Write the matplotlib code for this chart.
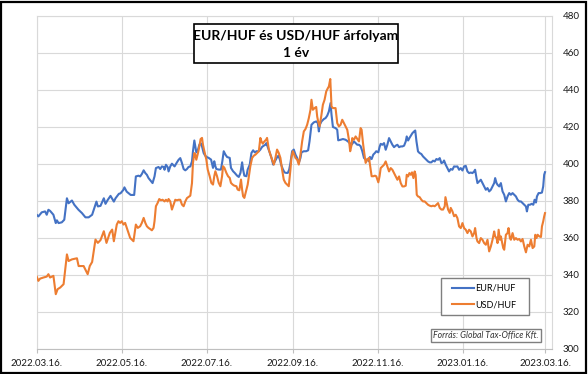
import matplotlib
matplotlib.use('Agg')
import matplotlib.pyplot as plt
from matplotlib.patches import Rectangle
import pandas as pd

plt.rcParams['font.family'] = ['Lato', 'DejaVu Sans']

# ---------------- data ----------------
start_date = '2022-03-16'
tick_dates = ['2022-03-16', '2022-05-16', '2022-07-16', '2022-09-16',
              '2022-11-16', '2023-01-16', '2023-03-16']
tick_labels = ['2022.03.16.', '2022.05.16.', '2022.07.16.', '2022.09.16.',
               '2022.11.16.', '2023.01.16.', '2023.03.16.']
y_ticks = [300, 320, 340, 360, 380, 400, 420, 440, 460, 480]

# days elapsed since 2022.03.16. and EUR/HUF rate
eur_days = [0, 1.2, 3.6, 6, 7.2, 8.4, 9.6, 12, 13.7, 14.5, 15.7, 18, 19.8, 21.7, 22.9, 25.3, 27, 30, 32.5, 35,
            37.3, 39.8, 42.2, 42.9, 43.9, 45.8, 48.2, 49.4, 51, 53, 55.4, 56.6, 59, 60.2, 62.2, 63, 64.6, 67.5, 70,
            71.2, 73.1, 74.3, 75.5, 76.8, 78, 79.1, 80.3, 82.2, 83.2, 84.6, 85.6, 87.5, 88.7, 89.9, 91.1, 91.8, 92.8,
            94, 94.7, 95.9, 97.1, 99, 100.7, 101.9, 103.1, 104.3, 105.5, 106.7, 107.9, 109, 110.3, 111.5, 112.2,
            113.2, 113.9, 114.6, 115.8, 116.8, 117.7, 118.7, 119.9, 121, 122, 123.5, 125.2, 126.6, 127.5, 128.3,
            129, 130.7, 132.3, 133.3, 134.3, 135.5, 136.7, 138.6, 139.5, 141, 142.2, 143.9, 145.1, 146.3, 147.5,
            148.2, 149.1, 150.6, 151.5, 153, 154.2, 155.4, 156.6, 157.8, 159.5, 160.6, 161.8, 163, 164.2, 164.9,
            166.2, 167.4, 168.6, 169.8, 170.7, 171.7, 172.7, 173.6, 174.6, 175.5, 176.7, 177.9, 179.1, 180.3,
            181.3, 182.2, 183.4, 184.6, 185.8, 187, 188.2, 189.4, 190.1, 191.8, 193.5, 194.9, 195.9, 197.3, 199,
            200.7, 201.9, 202.6, 203.3, 204.5, 206.2, 207.4, 208.6, 209.8, 211, 211.7, 212.7, 214.6, 215.8, 216.5,
            218.2, 219.9, 221.8, 223.5, 224.7, 226.1, 227.8, 229, 230.2, 231.4, 232.6, 233.8, 235, 236.2, 237.4,
            238.6, 239.3, 240.5, 241.7, 242.9, 243.8, 245.3, 246.2, 247, 248.2, 249.4, 250.6, 251.8, 253, 254.2,
            255.4, 256.6, 257.8, 259, 260.2, 261.4, 262.6, 263.8, 265, 265.7, 266.7, 267.6, 268.6, 269.8, 271,
            271.8, 272.7, 273.8, 275, 276.2, 277.4, 278.6, 279.8, 281, 282.2, 283.4, 284.6, 285.8, 287, 288.2,
            289.4, 290.6, 291.8, 292.5, 293.7, 294.9, 296.1, 297.3, 298.5, 299.7, 300.9, 302.1, 303.3, 304.5,
            305.7, 306.9, 308.1, 309.3, 310.5, 311.7, 312.9, 314.1, 314.8, 315.8, 316.5, 317.7, 318.9, 320.1,
            321.3, 322.5, 323.7, 324.9, 326.1, 327.3, 328.5, 329.2, 330.2, 330.9, 332.1, 333.3, 334.5, 335.7,
            336.9, 338.1, 339.3, 340.5, 341.7, 342.9, 344.1, 345.3, 346.5, 347.7, 348.9, 350.1, 351.3, 352, 353,
            354.2, 355.4, 356.6, 357.5, 358.5, 359.2, 360.4, 361.6, 362.8, 363.7, 364.4, 365]
eur_values = [372.5, 371.6, 373.8, 374.3, 372.5, 375.2, 374.6, 372.5, 368.0, 369.5, 368.0, 368.4, 369.8, 381.4,
              378.7, 380.2, 377.9, 375.2, 373.4, 371.1, 371.1, 372.5, 377.9, 379.6, 377.0, 377.3, 381.4, 378.4,
              380.5, 382.7, 379.6, 381.4, 383.8, 384.1, 385.9, 387.3, 385.0, 383.2, 383.2,
              393.2, 393.6, 393.2, 394.5, 396.5, 395.0, 394.1, 392.3, 390.5, 389.6, 393.2, 397.7, 398.3, 397.2,
              398.6, 398.3, 396.8, 399.5, 398.3, 395.9, 398.6, 400.1, 398.6, 400.8, 402.2, 403.1, 400.4, 397.2,
              396.5, 397.2, 398.3, 398.6, 401.3, 406.7, 412.6, 409.4, 406.2, 407.6, 410.3, 411.2, 409.4, 405.8,
              404.4, 403.7, 403.2, 402.3, 397.8, 401.4, 398.7, 397.2, 396.9, 396.9, 401.4, 406.8, 405.0, 403.7,
              403.2, 397.8, 396.0, 395.1, 393.6, 392.9, 395.1, 400.8, 396.9, 393.6, 393.3, 396.9, 399.6, 405.9,
              407.3, 406.2, 406.8, 406.8, 407.7, 409.1, 409.8, 410.3, 411.2, 408.5, 405.9, 403.2, 399.6, 400.8,
              402.3, 403.7, 404.4, 402.3, 399.6, 397.2, 395.4, 395.1, 395.1, 396.9, 400.5, 406.8, 407.7, 405.0,
              403.2, 400.5, 403.2, 406.2, 406.8, 406.8, 407.3, 412.1, 421.1, 422.4, 422.9, 422.0, 417.5, 421.1,
              422.9, 424.2, 424.7, 426.0, 428.3, 432.8, 426.5, 419.9, 419.3, 418.4, 412.7, 413.0, 413.4, 413.0,
              412.1, 411.2, 410.3, 412.1, 411.2, 410.3, 410.3, 409.5, 406.8, 403.2, 402.3, 402.3, 401.4, 403.7,
              402.6, 405.0, 405.9, 406.8, 406.2, 409.1, 410.8, 410.3, 411.2, 407.6, 410.3, 413.9, 412.1, 410.3,
              409.0, 409.8, 410.3, 409.0, 409.4, 409.4, 409.8, 412.1, 414.8, 412.6, 413.9, 415.1, 416.6, 417.5,
              418.0, 412.1, 406.7, 405.8, 405.3, 404.0, 403.1, 402.2, 401.3, 400.8, 400.8, 401.7, 401.3, 402.6,
              402.2, 403.1, 400.4, 400.8, 401.8, 399.5, 397.7, 395.9, 397.2, 396.8, 398.6, 398.5, 398.6, 396.8,
              397.7, 396.4, 398.6, 398.9, 395.9, 395.0, 395.3, 395.0, 395.9, 396.8, 392.3, 389.6, 390.5, 391.4,
              389.6, 387.8, 386.0, 386.9, 385.1, 386.0, 387.8, 389.6, 392.3, 389.6, 388.7, 387.8, 389.6, 385.1,
              383.3, 379.7, 382.4, 384.2, 383.3, 384.2, 383.3, 382.4, 380.6, 379.7, 379.7, 378.8, 377.9, 377.0,
              374.3, 377.9, 377.9, 378.4, 377.9, 380.6, 379.1, 382.4, 384.2, 384.2, 384.5, 387.8, 394.1, 395.5]

# days elapsed since 2022.03.16. and USD/HUF rate
usd_days = [0, 1.2, 2.4, 4.8, 7.2, 8.4, 9.6, 12, 13.7, 15, 16.9, 19.3, 21.7, 22.9, 25.3, 28.9, 30.1, 33.7, 36.6,
            38.1, 39.8, 42.2, 43.9, 45.8, 48.2, 50.1, 52.5, 54.2, 55.4, 57.5, 58.7, 59.9, 61.1, 62.3, 63.5, 64.7,
            65.9, 67.1, 68.3, 69.5, 71.2, 72.6, 74.3, 75.5, 76.8, 78, 79.1, 80.3, 81.5, 82.7, 83.9, 84.6, 85.6,
            86.8, 88, 89.2, 90.4, 91.8, 92.8, 94, 94.7, 95.9, 97.1, 98.3, 99.5, 100.7, 101.9, 103.1, 104.3, 105.5,
            106.7, 107.9, 109, 110.3, 111.5, 112.2, 113.2, 113.9, 114.6, 115.8, 116.8, 117.7, 118.7, 119.4, 120.4,
            121.8, 122.8, 124.2, 125.4, 126.6, 127.5, 128.3, 129.5, 130.7, 131.9, 133.1, 133.8, 134.8, 136.2,
            137.4, 138.6, 139.5, 140.7, 141.9, 143.4, 144.3, 145.5, 146.7, 147.5, 148.2, 149.1, 150.3, 151.5,
            152.7, 153.4, 154.7, 155.9, 157.1, 158.3, 159.5, 160.6, 161.4, 162.3, 163.5, 164.7, 165.4, 166.7,
            167.8, 169, 170.3, 171.4, 172.6, 173.8, 175, 176.2, 177.4, 178.6, 179.8, 181, 182.2, 182.9, 183.9,
            184.9, 185.8, 187, 188.2, 189.4, 190.6, 191.8, 193, 194.2, 195.4, 196.6, 197.3, 198.3, 199.5, 200.7,
            201.4, 202.1, 203.1, 204.3, 205.5, 206.7, 207.9, 209.1, 209.8, 210.8, 211.7, 212.7, 214.6, 215.8,
            217, 218.2, 219.4, 220.6, 221.8, 223, 224.2, 225.1, 225.9, 226.6, 227.8, 229, 230.2, 231.4, 232.6,
            233.3, 234.3, 235.2, 236.2, 237.4, 238.6, 239.8, 240.5, 241.7, 242.9, 243.8, 245.3, 246.2, 247,
            248.2, 249.4, 250.6, 251.8, 253, 254.2, 255.4, 256.6, 257.8, 259, 260.2, 261.4, 262.6, 263.8, 265,
            265.7, 266.7, 267.6, 268.6, 269.5, 270.5, 271.4, 272.1, 272.9, 273.8, 275, 276.2, 277.4, 278.6,
            279.8, 281, 282.2, 283.4, 284.6, 285.8, 287, 288.2, 289.4, 290.6, 291.8, 293, 293.5, 294.4, 295.4,
            296.6, 297.3, 298.5, 299.7, 300.9, 302.1, 303.3, 304.5, 305.7, 306.9, 308.1, 309.3, 310.5, 311.7,
            312.9, 314.1, 314.8, 315.8, 316.5, 317.7, 318.9, 320.1, 321.3, 322.5, 323.7, 324.9, 326.1, 327.3,
            328.5, 329.2, 330.2, 330.9, 331.7, 332.6, 333.3, 334, 335, 335.7, 336.9, 338.1, 338.8, 339.8, 340.5,
            341.7, 342.9, 344.1, 345.3, 346.5, 347.7, 348.9, 350.1, 351.3, 352.5, 353.7, 354.9, 356.1, 357.3,
            358, 358.9, 359.7, 360.9, 362.1, 362.8, 363.7, 364.4, 365]
usd_values = [339.1, 336.8, 338.0, 338.6, 339.1, 340.4, 338.6, 339.5, 329.6, 332.3, 333.2, 335.0, 351.1, 347.5,
              348.4, 349.0, 344.8, 344.8, 340.4, 344.8, 347.0, 359.1, 357.3, 358.8, 363.6, 357.3, 362.7, 364.5,
              358.2, 367.2, 369.0, 368.1, 369.0, 367.2, 368.1, 365.4, 362.7, 360.0, 359.1, 358.2, 367.2, 365.4,
              366.3, 368.1, 370.8, 368.1, 366.3, 365.4, 364.8, 364.1, 365.4, 369.0, 377.1, 378.8, 381.0, 380.3,
              380.6, 379.7, 380.6, 379.7, 381.0, 379.7, 375.3, 378.0, 380.6, 380.3, 380.6, 380.6, 378.0, 377.1,
              379.7, 381.5, 382.1, 382.8, 389.6, 400.4, 405.8, 404.9, 402.2, 405.8, 409.4, 413.4, 414.0, 410.3,
              406.8, 402.3, 396.9, 393.3, 389.7, 388.8, 393.3, 396.0, 393.3, 389.7, 387.9, 393.3, 398.7, 397.8,
              395.1, 393.3, 392.4, 389.7, 388.8, 388.2, 387.9, 386.1, 385.7, 391.5, 386.1, 382.5, 381.6, 385.2,
              388.8, 395.1, 398.7, 403.2, 404.4, 405.0, 405.9, 406.8, 414.0, 412.1, 410.9, 412.1, 413.0, 414.0,
              407.7, 405.0, 402.3, 399.6, 403.2, 407.7, 405.9, 403.2, 396.9, 391.5, 389.7, 388.8, 387.9, 396.9,
              403.2, 406.8, 405.0, 403.2, 402.3, 399.6, 405.0, 412.1, 417.5, 418.8, 421.1, 424.7, 429.2, 434.6,
              429.2, 430.1, 430.7, 425.6, 422.9, 420.2, 425.6, 431.9, 434.6, 439.1, 440.9, 441.8, 445.8, 431.0,
              430.1, 430.1, 422.0, 420.2, 421.1, 423.8, 422.0, 420.2, 418.4, 413.0, 406.8, 409.5, 413.9, 413.0,
              414.8, 413.4, 412.1, 419.3, 418.4, 411.2, 405.9, 400.5, 402.3, 403.2, 396.9, 393.3, 393.3, 393.6,
              393.3, 390.0, 393.3, 397.7, 398.6, 399.5, 401.3, 398.6, 395.9, 397.7, 396.8, 395.0, 393.2, 391.4,
              393.2, 389.6, 387.8, 387.8, 388.2, 394.1, 393.2, 395.0, 394.1, 395.4, 392.3, 395.9, 394.1, 383.3,
              382.4, 382.0, 380.6, 379.7, 379.7, 378.8, 377.9, 377.4, 377.1, 377.4, 377.1, 377.9, 378.8, 376.2,
              375.3, 375.3, 377.1, 382.0, 378.8, 375.3, 373.5, 376.2, 374.4, 371.7, 372.5, 370.7, 366.2, 365.3,
              368.0, 365.3, 364.4, 362.6, 364.4, 363.5, 360.8, 362.6, 365.3, 359.9, 358.1, 357.2, 359.9, 359.0,
              357.2, 356.3, 359.0, 352.7, 355.4, 359.0, 363.5, 360.8, 359.9, 357.2, 364.4, 359.0, 360.8, 358.1,
              354.5, 353.6, 361.7, 362.6, 365.3, 359.9, 359.0, 362.6, 359.0, 359.9, 359.0, 359.4, 358.1, 359.4,
              355.4, 352.2, 356.3, 355.4, 359.0, 354.5, 355.4, 361.7, 359.9, 361.7, 360.8, 360.5, 366.2, 368.9,
              371.6, 373.4]

# ---------------- figure ----------------
W, H = 588, 374
fig = plt.figure(figsize=(W / 100, H / 100), dpi=100)
fig.patch.set_facecolor('white')


def fx(px):
    return px / W


def fy(py):
    return 1 - py / H


ax = fig.add_axes([fx(36.7), fy(349), fx(551.7) - fx(36.7), fy(15.7) - fy(349)])

start = pd.Timestamp(start_date)
eur_dates = start + pd.to_timedelta(eur_days, unit='D')
usd_dates = start + pd.to_timedelta(usd_days, unit='D')

ax.plot(eur_dates, eur_values, color='#4472C4', lw=1.5, label='EUR/HUF', zorder=3)
ax.plot(usd_dates, usd_values, color='#ED7D31', lw=1.5, label='USD/HUF', zorder=3)

ax.set_xlim(start, start + pd.Timedelta(days=369.8))
ax.set_ylim(300, 480)

ax.set_xticks(pd.to_datetime(tick_dates))
ax.set_xticklabels(tick_labels)
ax.set_yticks(y_ticks)
ax.yaxis.tick_right()

ax.tick_params(axis='x', length=3, width=0.8, color='#bfbfbf', pad=4, labelsize=7, labelcolor='#1a1a1a')
ax.tick_params(axis='y', length=0, pad=8, labelsize=7, labelcolor='#1a1a1a')
ax.grid(True, color='#d9d9d9', lw=0.8, zorder=0)
ax.set_axisbelow(True)
for side in ['top', 'left', 'right']:
    ax.spines[side].set_color('#d9d9d9')
    ax.spines[side].set_linewidth(0.8)
ax.spines['bottom'].set_color('#bfbfbf')
ax.spines['bottom'].set_linewidth(0.8)

# title box
ax.add_patch(Rectangle((fx(194), fy(63)), fx(398) - fx(194), fy(24) - fy(63),
                       transform=fig.transFigure, clip_on=False, facecolor='white',
                       edgecolor='black', lw=1.2, zorder=6))
fig.text(fx(296), fy(35.5), 'EUR/HUF és USD/HUF árfolyam', ha='center', va='center',
         fontsize=10, fontweight='bold', color='black', zorder=7)
fig.text(fx(296), fy(53), '1 év', ha='center', va='center',
         fontsize=10, fontweight='bold', color='black', zorder=7)

# legend box
ax.add_patch(Rectangle((fx(441), fy(315)), fx(528.5) - fx(441), fy(278) - fy(315),
                       transform=fig.transFigure, clip_on=False, facecolor='white',
                       edgecolor='#7f7f7f', lw=1.0, zorder=6))
leg = ax.legend(loc='center', bbox_to_anchor=(fx(484.5), fy(296.5)), bbox_transform=fig.transFigure,
                frameon=False, fontsize=6.5, handlelength=2.4, handletextpad=0.15,
                labelspacing=0.85, borderpad=0)
leg.set_zorder(8)

# source box
ax.add_patch(Rectangle((fx(431), fy(342)), fx(540.5) - fx(431), fy(329) - fy(342),
                       transform=fig.transFigure, clip_on=False, facecolor='white',
                       edgecolor='#7f7f7f', lw=1.0, zorder=6))
fig.text(fx(485.7), fy(335.7), 'Forrás: Global Tax-Office Kft.', ha='center', va='center',
         fontsize=6.2, style='italic', color='#333333', zorder=7)

# outer border
fig.add_artist(Rectangle((fx(1.5), fy(372.5)), fx(585.5) - fx(1.5), fy(1.5) - fy(372.5),
                         transform=fig.transFigure, fill=False, edgecolor='black', lw=1.6))

fig.savefig('out.png', dpi=100)
